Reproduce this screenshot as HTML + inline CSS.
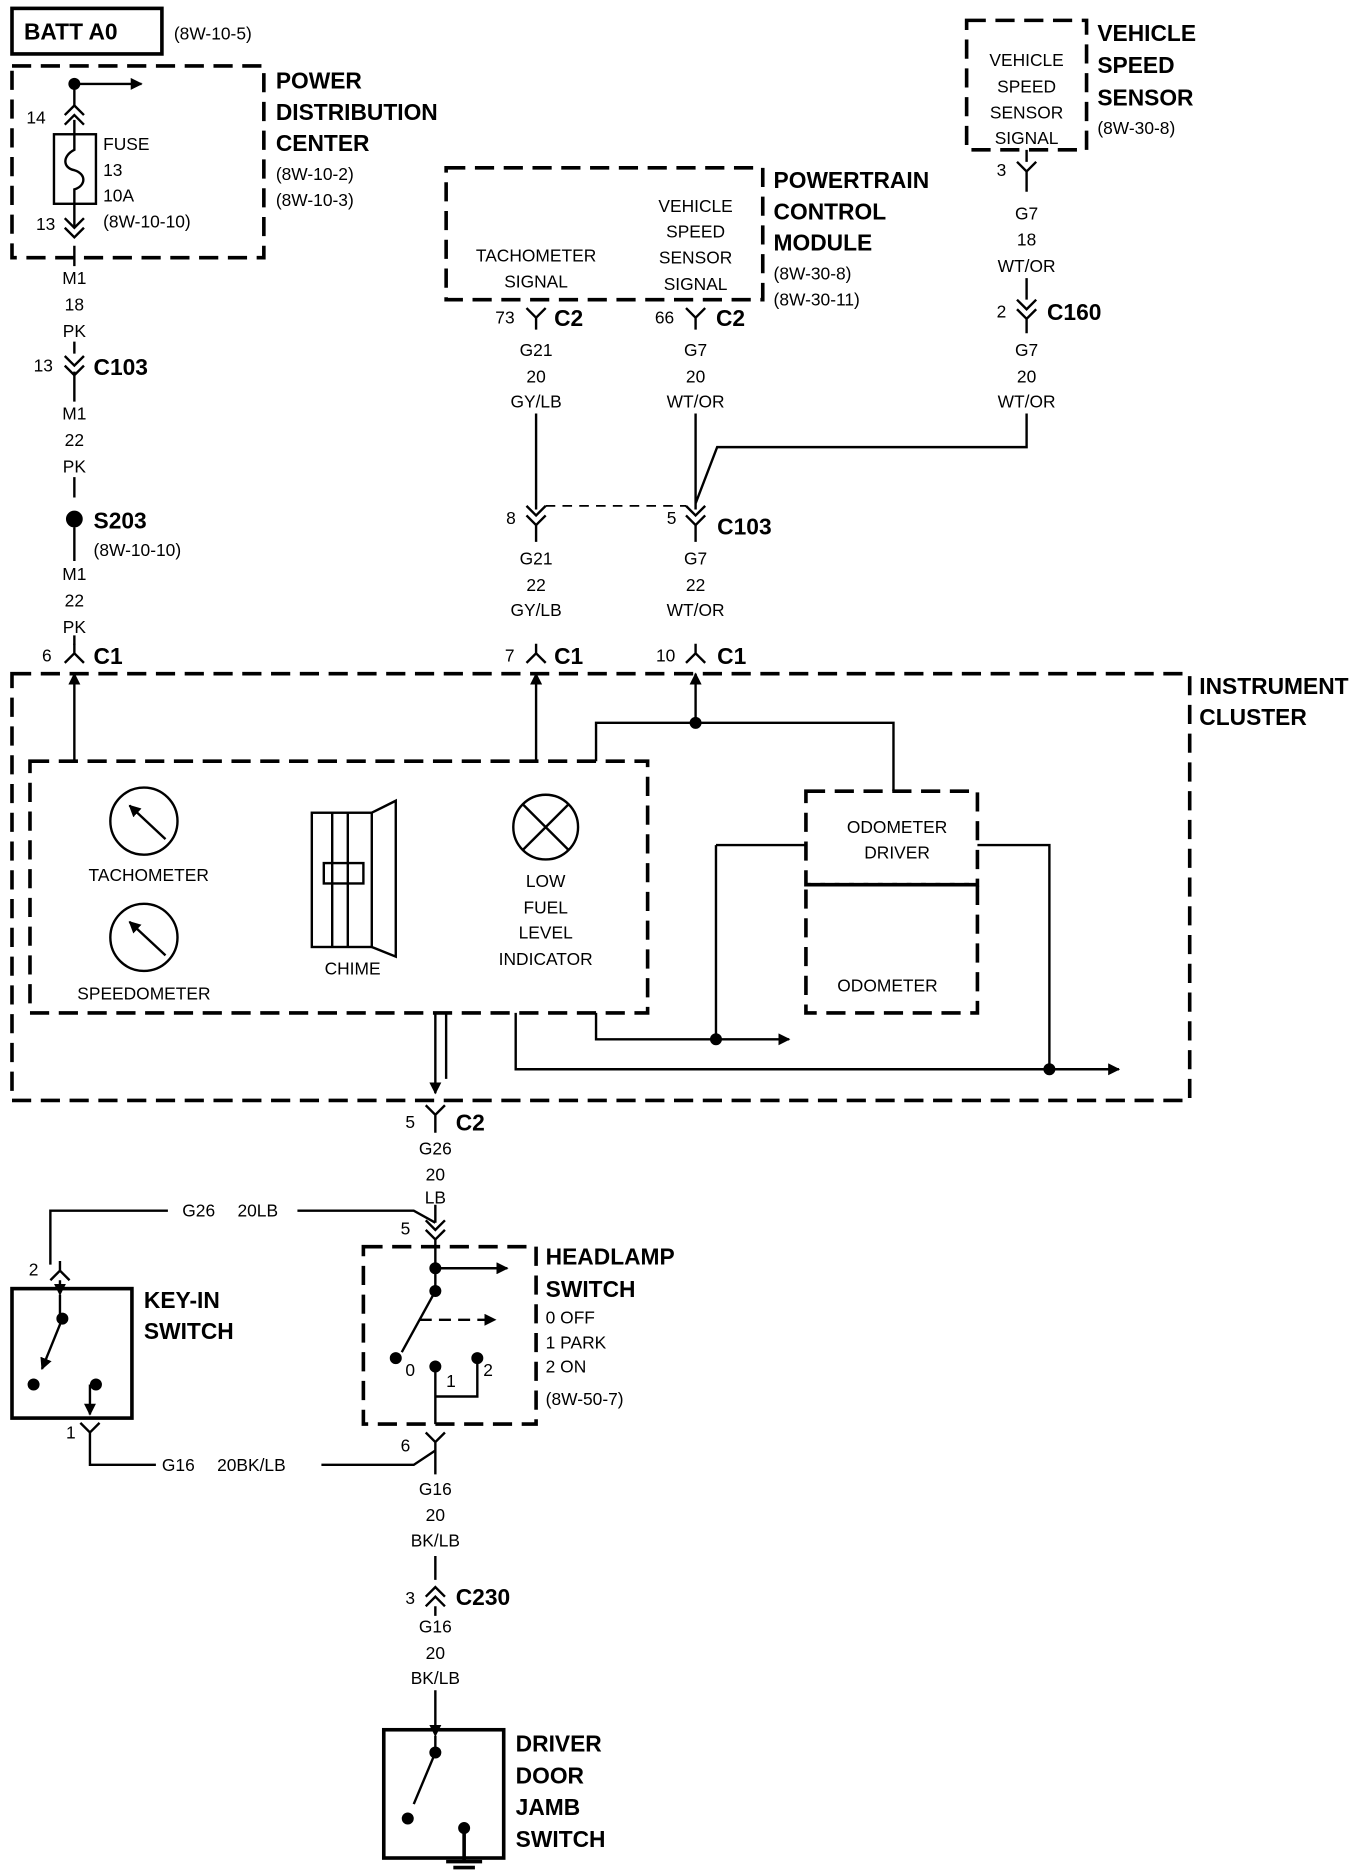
<!DOCTYPE html>
<html><head><meta charset="utf-8"><style>
html,body{margin:0;padding:0;background:#fff;}
svg{display:block}
text{font-family:"Liberation Sans",sans-serif;font-size:14.5px;fill:#000}
.b{font-weight:bold;font-size:19px}
.c{text-anchor:middle}
</style></head><body>
<svg width="1360" height="1876" viewBox="0 0 1134 1565" preserveAspectRatio="none" stroke="#000" stroke-width="2" fill="none">
<defs>
<marker id="ar" markerWidth="10" markerHeight="10" refX="9" refY="5" orient="auto" markerUnits="userSpaceOnUse"><path d="M0,0 L10,5 L0,10 z" fill="#000" stroke="none"/></marker>
</defs>
<g stroke-dasharray="16,8" stroke-width="3">
<rect x="10" y="55" width="210" height="160"/>
<rect x="372" y="140" width="264" height="110"/>
<rect x="806" y="17" width="100" height="108"/>
<rect x="10" y="562" width="982" height="356"/>
<rect x="25" y="635" width="515" height="210"/>
<rect x="672" y="660" width="143" height="78"/>
<rect x="672" y="738" width="143" height="107"/>
<rect x="303" y="1040" width="144" height="148"/>
</g>
<g stroke-dasharray="8,6" stroke-width="1.5"><path d="M455,422 H572"/></g>
<rect x="10" y="7" width="125" height="38" stroke-width="3"/>
<rect x="10" y="1075" width="100" height="108" stroke-width="3"/>
<rect x="320" y="1443" width="100" height="107" stroke-width="3"/>
<path d="M62,70 V88 M62,100 V112 M62,170 V190 M62,205 V222 M62,285 V295 M62,310 V335 M62,398 V415 M62,440 V468 M62,530 V538"/>
<circle cx="62" cy="70" r="4" fill="#000"/>
<path d="M62,70 H118" marker-end="url(#ar)"/>
<path d="M54,96 L62,88 L70,96 M54,104 L62,96 L70,104"/>
<rect x="45" y="112" width="35" height="58"/>
<path d="M62,112 V125 C52,130 52,140 62,142 C72,145 72,155 62,158 V170"/>
<path d="M54,182 L62,190 L70,182 M54,190 L62,198 L70,190"/>
<path d="M54,297 L62,305 L70,297 M54,305 L62,313 L70,305"/>
<circle cx="62" cy="433" r="6" fill="#000"/>
<path d="M54,553 L62,545 L70,553 M62,545 V537"/>
<path d="M439,257 L447,265 L455,257 M447,265 V275 M572,257 L580,265 L588,257 M580,265 V275"/>
<path d="M447,345 V425 M580,345 V425 M856,345 V373 H598 L580,420"/>
<path d="M439,422 L447,430 L455,422 M439,430 L447,438 L455,430 M572,422 L580,430 L588,422 M572,430 L580,438 L588,430"/>
<path d="M447,438 V452 M580,438 V452"/>
<path d="M439,553 L447,545 L455,553 M447,545 V537 M572,553 L580,545 L588,553 M580,545 V537"/>
<path d="M848,135 L856,143 L864,135 M856,143 V160 M856,125 V135"/>
<path d="M848,250 L856,258 L864,250 M848,258 L856,266 L864,258 M856,232 V250 M856,266 V278"/>
<path d="M62,635 V562" marker-end="url(#ar)"/>
<path d="M447,635 V562" marker-end="url(#ar)"/>
<path d="M580,603 V562" marker-end="url(#ar)"/>
<path d="M497,635 V603 H745 V660"/>
<circle cx="580" cy="603" r="4" fill="#000"/>
<circle cx="120" cy="685" r="28"/><path d="M138,700 L108,672" marker-end="url(#ar)"/>
<circle cx="120" cy="782" r="28"/><path d="M138,797 L108,769" marker-end="url(#ar)"/>
<rect x="260" y="678" width="50" height="112"/><path d="M277,678 V790 M290,678 V790"/>
<rect x="270" y="720" width="33" height="17"/>
<path d="M310,678 L330,668 V798 L310,790"/>
<circle cx="455" cy="690" r="27"/><path d="M436,671 L474,709 M474,671 L436,709"/>
<path d="M815,705 H875 V892 M597,705 H672 M597,705 V867"/>
<path d="M497,845 V867 H658" marker-end="url(#ar)"/>
<path d="M430,845 V892 H933" marker-end="url(#ar)"/>
<circle cx="597" cy="867" r="4" fill="#000"/><circle cx="875" cy="892" r="4" fill="#000"/>
<path d="M363,845 V912" marker-end="url(#ar)"/><path d="M372,845 V900"/>
<path d="M355,922 L363,930 L371,922 M363,930 V945"/>
<path d="M363,1005 V1020 M42,1055 V1010 H140 M248,1010 H345 L363,1020"/>
<path d="M355,1018 L363,1026 L371,1018 M355,1026 L363,1034 L371,1026 M363,1034 V1040"/>
<path d="M42,1068 L50,1060 L58,1068 M50,1060 V1052 M50,1068 V1075"/>
<path d="M50,1080 V1098" marker-start="url(#ar)"/>
<circle cx="52" cy="1100" r="4" fill="#000"/><path d="M52,1100 L35,1142" marker-end="url(#ar)"/>
<circle cx="28" cy="1155" r="4" fill="#000"/><circle cx="80" cy="1155" r="4" fill="#000"/>
<path d="M75,1155 V1180" marker-end="url(#ar)"/>
<path d="M67,1187 L75,1195 L83,1187 M75,1195 V1222 H130 M268,1222 H345 L363,1210"/>
<path d="M363,1040 V1078"/>
<circle cx="363" cy="1058" r="4" fill="#000"/><path d="M363,1058 H423" marker-end="url(#ar)"/>
<circle cx="363" cy="1077" r="4" fill="#000"/><path d="M363,1077 L335,1128"/>
<path d="M350,1101 H413" stroke-dasharray="10,6" marker-end="url(#ar)"/>
<circle cx="330" cy="1133" r="4" fill="#000"/><circle cx="363" cy="1140" r="4" fill="#000"/><circle cx="398" cy="1133" r="4" fill="#000"/>
<path d="M363,1140 V1165 H398 V1133 M363,1165 V1188"/>
<path d="M355,1195 L363,1203 L371,1195 M363,1203 V1230 M363,1298 V1318"/>
<path d="M355,1332 L363,1324 L371,1332 M355,1340 L363,1332 L371,1340 M363,1340 V1348 M363,1410 V1443"/>
<path d="M363,1448 V1460" marker-start="url(#ar)"/>
<circle cx="363" cy="1462" r="4" fill="#000"/><path d="M363,1462 L345,1505"/>
<circle cx="340" cy="1517" r="4" fill="#000"/><circle cx="387" cy="1525" r="4" fill="#000"/>
<path d="M387,1525 V1553 M372,1553 H402 M378,1558 H396" stroke-width="3"/>
<g stroke="none" fill="#000">
<text class="b" x="20" y="33">BATT A0</text><text x="145" y="33">(8W-10-5)</text>
<text class="b" x="230" y="74">POWER</text><text class="b" x="230" y="100">DISTRIBUTION</text><text class="b" x="230" y="126">CENTER</text>
<text x="230" y="150">(8W-10-2)</text><text x="230" y="172">(8W-10-3)</text>
<text x="22" y="103">14</text><text x="86" y="125">FUSE</text><text x="86" y="147">13</text><text x="86" y="168">10A</text><text x="86" y="190">(8W-10-10)</text>
<text x="30" y="192">13</text>
<text class="c" x="62" y="237">M1</text><text class="c" x="62" y="259">18</text><text class="c" x="62" y="281">PK</text>
<text x="28" y="310">13</text><text class="b" x="78" y="313">C103</text>
<text class="c" x="62" y="350">M1</text><text class="c" x="62" y="372">22</text><text class="c" x="62" y="394">PK</text>
<text class="b" x="78" y="441">S203</text><text x="78" y="464">(8W-10-10)</text>
<text class="c" x="62" y="484">M1</text><text class="c" x="62" y="506">22</text><text class="c" x="62" y="528">PK</text>
<text x="35" y="552">6</text><text class="b" x="78" y="554">C1</text>
<text class="c" x="447" y="218">TACHOMETER</text><text class="c" x="447" y="240">SIGNAL</text>
<text class="c" x="580" y="177">VEHICLE</text><text class="c" x="580" y="198">SPEED</text><text class="c" x="580" y="220">SENSOR</text><text class="c" x="580" y="242">SIGNAL</text>
<text class="b" x="645" y="157">POWERTRAIN</text><text class="b" x="645" y="183">CONTROL</text><text class="b" x="645" y="209">MODULE</text>
<text x="645" y="233">(8W-30-8)</text><text x="645" y="255">(8W-30-11)</text>
<text x="413" y="270">73</text><text class="b" x="462" y="272">C2</text>
<text x="546" y="270">66</text><text class="b" x="597" y="272">C2</text>
<text class="c" x="447" y="297">G21</text><text class="c" x="447" y="319">20</text><text class="c" x="447" y="340">GY/LB</text>
<text class="c" x="580" y="297">G7</text><text class="c" x="580" y="319">20</text><text class="c" x="580" y="340">WT/OR</text>
<text class="c" x="856" y="55">VEHICLE</text><text class="c" x="856" y="77">SPEED</text><text class="c" x="856" y="99">SENSOR</text><text class="c" x="856" y="120">SIGNAL</text>
<text class="b" x="915" y="34">VEHICLE</text><text class="b" x="915" y="61">SPEED</text><text class="b" x="915" y="88">SENSOR</text><text x="915" y="112">(8W-30-8)</text>
<text x="831" y="147">3</text>
<text class="c" x="856" y="183">G7</text><text class="c" x="856" y="205">18</text><text class="c" x="856" y="227">WT/OR</text>
<text x="831" y="265">2</text><text class="b" x="873" y="267">C160</text>
<text class="c" x="856" y="297">G7</text><text class="c" x="856" y="319">20</text><text class="c" x="856" y="340">WT/OR</text>
<text x="422" y="437">8</text><text x="556" y="437">5</text><text class="b" x="598" y="446">C103</text>
<text class="c" x="447" y="471">G21</text><text class="c" x="447" y="493">22</text><text class="c" x="447" y="514">GY/LB</text>
<text class="c" x="580" y="471">G7</text><text class="c" x="580" y="493">22</text><text class="c" x="580" y="514">WT/OR</text>
<text x="421" y="552">7</text><text class="b" x="462" y="554">C1</text>
<text x="547" y="552">10</text><text class="b" x="598" y="554">C1</text>
<text class="b" x="1000" y="579">INSTRUMENT</text><text class="b" x="1000" y="605">CLUSTER</text>
<text class="c" x="124" y="735">TACHOMETER</text><text class="c" x="120" y="834">SPEEDOMETER</text>
<text class="c" x="294" y="813">CHIME</text>
<text class="c" x="455" y="740">LOW</text><text class="c" x="455" y="762">FUEL</text><text class="c" x="455" y="783">LEVEL</text><text class="c" x="455" y="805">INDICATOR</text>
<text class="c" x="748" y="695">ODOMETER</text><text class="c" x="748" y="716">DRIVER</text><text class="c" x="740" y="827">ODOMETER</text>
<text x="338" y="941">5</text><text class="b" x="380" y="943">C2</text>
<text class="c" x="363" y="963">G26</text><text class="c" x="363" y="985">20</text><text class="c" x="363" y="1004">LB</text>
<text x="152" y="1015">G26</text><text x="198" y="1015">20LB</text>
<text x="334" y="1030">5</text><text x="24" y="1064">2</text>
<text class="b" x="120" y="1091">KEY-IN</text><text class="b" x="120" y="1117">SWITCH</text>
<text class="b" x="455" y="1055">HEADLAMP</text><text class="b" x="455" y="1082">SWITCH</text>
<text x="455" y="1104">0 OFF</text><text x="455" y="1125">1 PARK</text><text x="455" y="1145">2 ON</text><text x="455" y="1172">(8W-50-7)</text>
<text x="338" y="1148">0</text><text x="372" y="1157">1</text><text x="403" y="1148">2</text>
<text x="55" y="1200">1</text><text x="334" y="1211">6</text>
<text x="135" y="1227">G16</text><text x="181" y="1227">20BK/LB</text>
<text class="c" x="363" y="1247">G16</text><text class="c" x="363" y="1269">20</text><text class="c" x="363" y="1290">BK/LB</text>
<text x="338" y="1338">3</text><text class="b" x="380" y="1339">C230</text>
<text class="c" x="363" y="1362">G16</text><text class="c" x="363" y="1384">20</text><text class="c" x="363" y="1405">BK/LB</text>
<text class="b" x="430" y="1461">DRIVER</text><text class="b" x="430" y="1488">DOOR</text><text class="b" x="430" y="1514">JAMB</text><text class="b" x="430" y="1541">SWITCH</text>
</g>
</svg>
</body></html>
